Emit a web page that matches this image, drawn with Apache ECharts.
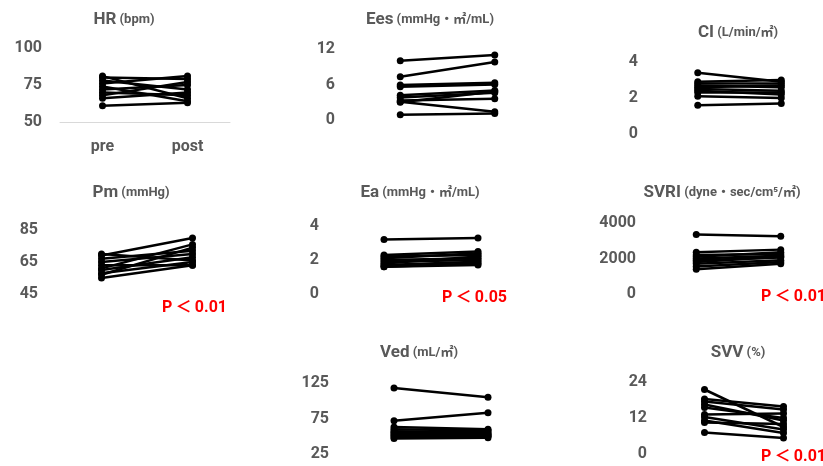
<!DOCTYPE html>
<html>
<head>
<meta charset="utf-8">
<script src="https://cdn.jsdelivr.net/npm/echarts@6/dist/echarts.min.js"></script>
<style>
html,body{margin:0;padding:0;background:#fff;}
#chart{width:823px;height:466px;}
</style>
</head>
<body>
<div id="chart"></div>
<script>
const categories = ['pre', 'post'];

const hrPre  = [81, 80, 78, 76, 74, 72, 70, 68, 66, 61];
const hrPost = [66, 79, 72, 81, 64, 75, 68, 77, 70, 63];
const hrTicks = [50, 75, 100];

const eesPre  = [10.0, 7.3, 5.9, 5.6, 4.2, 3.8, 3.3, 3.1, 3.0, 0.9];
const eesPost = [11.0, 9.8, 6.3, 6.0, 5.0, 4.6, 3.6, 1.4, 4.8, 1.1];
const eesTicks = [0, 6, 12];

const ciPre  = [3.4, 2.9, 2.8, 2.7, 2.6, 2.5, 2.4, 2.3, 2.1, 1.6];
const ciPost = [2.9, 3.0, 2.8, 2.6, 2.7, 2.4, 2.2, 2.3, 2.0, 1.7];
const ciTicks = [0, 2, 4];

const pmPre  = [70, 69, 67, 65, 63, 61, 60, 58, 57, 55];
const pmPost = [66, 80, 72, 70, 63, 76, 68, 65, 74, 63];
const pmTicks = [45, 65, 85];

const eaPre  = [3.2, 2.3, 2.2, 2.1, 2.0, 1.9, 1.8, 1.7, 1.6, 1.6];
const eaPost = [3.3, 2.5, 2.3, 2.4, 2.1, 2.0, 2.2, 1.9, 1.7, 1.8];
const eaTicks = [0, 2, 4];

const svriPre  = [3350, 2350, 2200, 2100, 2000, 1900, 1800, 1700, 1550, 1400];
const svriPost = [3250, 2500, 2250, 2350, 2150, 2050, 2100, 1900, 1800, 1700];
const svriTicks = [0, 2000, 4000];

const vedPre  = [118, 72, 63, 60, 57, 55, 53, 51, 49, 47];
const vedPost = [105, 83, 60, 58, 56, 54, 52, 51, 50, 48];
const vedTicks = [25, 75, 125];

const svvPre  = [21.5, 18.3, 17.5, 16.5, 15.5, 13.2, 12.3, 11.2, 10.5, 7.2];
const svvPost = [9.0, 15.8, 14.8, 11.2, 12.0, 13.5, 8.2, 7.0, 10.0, 5.3];
const svvTicks = [0, 12, 24];

const titles = [
  ['HR', '(bpm)'],
  ['Ees', '(mmHg・㎡/mL)'],
  ['CI', '(L/min/㎡)'],
  ['Pm', '(mmHg)'],
  ['Ea', '(mmHg・㎡/mL)'],
  ['SVRI', '(dyne・sec/cm⁵/㎡)'],
  ['Ved', '(mL/㎡)'],
  ['SVV', '(%)']
];
const pLabels = ['', '', '', 'P\u2009＜\u20090.01', 'P\u2009＜\u20090.05', 'P\u2009＜\u20090.01', '', 'P\u2009＜\u20090.01'];

const panels = [
  {pre: hrPre, post: hrPost, ticks: hrTicks, step: 25, grid: {left: 60, top: 48, width: 170, height: 74}, showX: true, title: [124, 20]},
  {pre: eesPre, post: eesPost, ticks: eesTicks, step: 6, grid: {left: 353, top: 49, width: 189, height: 71}, title: [430, 20]},
  {pre: ciPre, post: ciPost, ticks: ciTicks, step: 2, grid: {left: 656, top: 62, width: 188, height: 72}, title: [738, 33]},
  {pre: pmPre, post: pmPost, ticks: pmTicks, step: 5, grid: {left: 56, top: 230, width: 182, height: 64}, title: [131, 193], p: [162, 308]},
  {pre: eaPre, post: eaPost, ticks: eaTicks, step: 2, grid: {left: 337, top: 226, width: 188, height: 68}, title: [420, 193], p: [442, 298]},
  {pre: svriPre, post: svriPost, ticks: svriTicks, step: 2000, grid: {left: 654, top: 223, width: 190, height: 71}, title: [722, 193], p: [761, 297]},
  {pre: vedPre, post: vedPost, ticks: vedTicks, step: 25, grid: {left: 347, top: 383, width: 188, height: 71}, title: [419, 353]},
  {pre: svvPre, post: svvPost, ticks: svvTicks, step: 12, grid: {left: 665, top: 382, width: 180, height: 72}, title: [738, 353], p: [761, 457]}
];

const FONT = 'Roboto, "Noto Sans CJK JP", sans-serif';
const GREY = '#595959';

const grid = [], xAxis = [], yAxis = [], series = [], graphic = [];
panels.forEach((pn, i) => {
  grid.push(Object.assign({containLabel: false}, pn.grid));
  xAxis.push({
    type: 'category', gridIndex: i, data: categories, boundaryGap: true,
    axisLine: {show: !!pn.showX, lineStyle: {color: '#d9d9d9', width: 1}},
    axisTick: {show: false},
    axisLabel: {show: !!pn.showX, margin: 17, color: GREY, fontSize: 16, fontWeight: 'bold', fontFamily: FONT},
    splitLine: {show: false}
  });
  const tk = pn.ticks;
  yAxis.push({
    type: 'value', gridIndex: i, min: tk[0], max: tk[tk.length - 1], interval: pn.step,
    axisLine: {show: false}, axisTick: {show: false}, splitLine: {show: false},
    axisLabel: {
      margin: 18, color: GREY, fontSize: 16, fontWeight: 'bold', fontFamily: FONT,
      formatter: v => (tk.indexOf(v) >= 0 ? String(v) : '')
    }
  });
  pn.pre.forEach((v, k) => {
    series.push({
      type: 'line', xAxisIndex: i, yAxisIndex: i,
      data: [v, pn.post[k]],
      symbol: 'circle', symbolSize: 7, showSymbol: true,
      lineStyle: {color: '#000', width: 2.5},
      itemStyle: {color: '#000'},
      silent: true, animation: false
    });
  });
  graphic.push({
    type: 'text', x: pn.title[0], y: pn.title[1],
    style: {
      text: '{a|' + titles[i][0] + '}{b| ' + titles[i][1] + '}',
      align: 'center', verticalAlign: 'middle',
      rich: {
        a: {fontSize: 17, fontWeight: 'bold', fill: GREY, color: GREY, fontFamily: FONT},
        b: {fontSize: 13, fontWeight: 'bold', fill: GREY, color: GREY, fontFamily: FONT}
      }
    }
  });
  if (pn.p) {
    graphic.push({
      type: 'text', x: pn.p[0], y: pn.p[1],
      style: {
        text: pLabels[i], fill: '#ff0000', fontSize: 16, fontWeight: 'bold', fontFamily: FONT,
        align: 'left', verticalAlign: 'middle'
      }
    });
  }
});

const chart = echarts.init(document.getElementById('chart'));
chart.setOption({
  animation: false,
  backgroundColor: '#fff',
  grid, xAxis, yAxis, series, graphic
});
</script>
</body>
</html>
